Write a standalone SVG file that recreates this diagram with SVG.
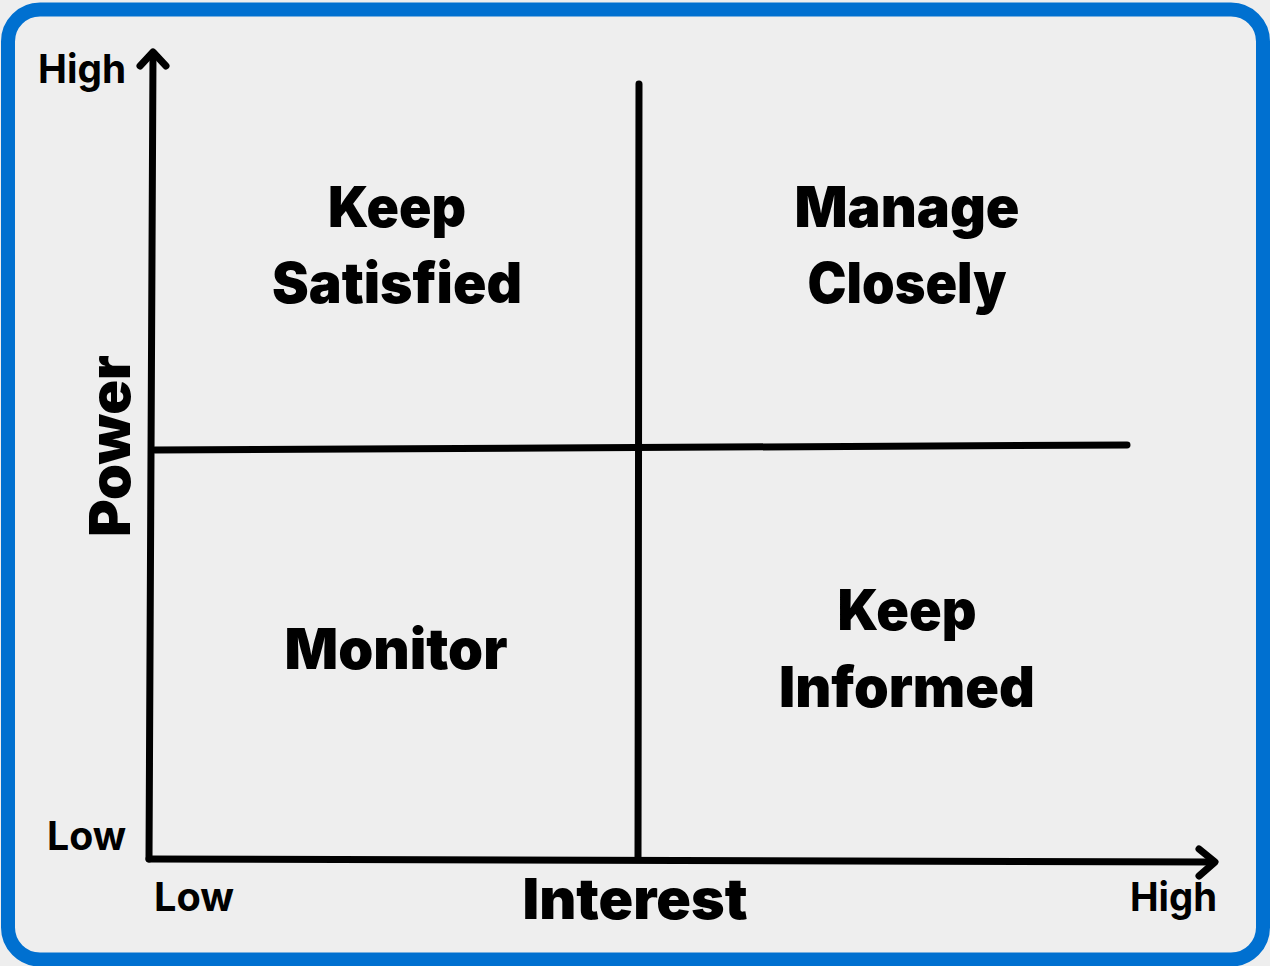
<svg xmlns="http://www.w3.org/2000/svg" width="1270" height="966" viewBox="0 0 1270 966">
<style>
.ax{stroke:#000;stroke-width:7;fill:none;stroke-linecap:round;stroke-linejoin:round}
.big{font-family:Inter,"Liberation Sans",sans-serif;font-weight:900;font-size:56px;fill:#000;text-anchor:middle}
.lbl{font-family:Inter,"Liberation Sans",sans-serif;font-weight:700;font-size:40px;fill:#000}
</style>
<rect x="0" y="0" width="1270" height="966" fill="#eeeeee"/>
<rect x="8" y="9.5" width="1255" height="950" rx="32" fill="#eeeeee" stroke="#0070d0" stroke-width="14"/>
<g id="connectors">
<path class="ax" d="M149,859 L153,53"/>
<path class="ax" d="M140,66 L153,52 L166,66"/>
<path class="ax" d="M149,859 L1214,862"/>
<path class="ax" d="M1199,849 L1215,862 L1199,876"/>
<path class="ax" d="M155,450 L1127,445" stroke-linecap="butt"/>
<path class="ax" d="M639,84 L638,859" stroke-linecap="butt"/>
</g>
<g id="axis-labels">
<text class="lbl" x="38" y="83" textLength="88" lengthAdjust="spacingAndGlyphs">High</text>
<text class="lbl" x="47" y="850" textLength="79" lengthAdjust="spacingAndGlyphs">Low</text>
<text class="lbl" x="154" y="911" textLength="80" lengthAdjust="spacingAndGlyphs">Low</text>
<text class="lbl" x="1130" y="911" textLength="87" lengthAdjust="spacingAndGlyphs">High</text>
<text class="big" x="635" y="919" font-size="54" textLength="225" lengthAdjust="spacingAndGlyphs">Interest</text>
<text class="big" x="0" y="0" font-size="58" transform="translate(130,446) rotate(-90)" textLength="182" lengthAdjust="spacingAndGlyphs">Power</text>
</g>
<g id="keep-satisfied">
<text class="big" x="397" y="227" textLength="138" lengthAdjust="spacingAndGlyphs">Keep</text>
<text class="big" x="397" y="303" textLength="250" lengthAdjust="spacingAndGlyphs">Satisfied</text>
</g>
<g id="manage-closely">
<text class="big" x="907" y="227" textLength="225" lengthAdjust="spacingAndGlyphs">Manage</text>
<text class="big" x="907" y="303" textLength="199" lengthAdjust="spacingAndGlyphs">Closely</text>
</g>
<g id="monitor">
<text class="big" x="396" y="669" textLength="223" lengthAdjust="spacingAndGlyphs">Monitor</text>
</g>
<g id="keep-informed">
<text class="big" x="907" y="630" textLength="139" lengthAdjust="spacingAndGlyphs">Keep</text>
<text class="big" x="907" y="707" textLength="256" lengthAdjust="spacingAndGlyphs">Informed</text>
</g>
</svg>
